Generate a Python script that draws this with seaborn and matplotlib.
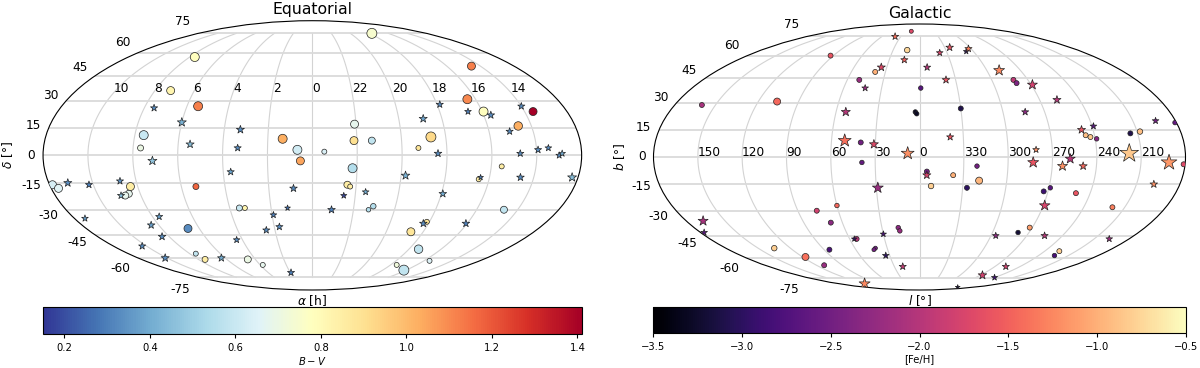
import numpy as np
import pandas as pd
import matplotlib
matplotlib.use("Agg")
import matplotlib.pyplot as plt
import seaborn as sns
from matplotlib.cm import ScalarMappable
from matplotlib.colors import Normalize

# ==========================================
# DATA (degrees, colour value, marker diameter in px)
# ==========================================

eq_circle_lon = [-115,-108,-82,-114,-115,-20,-10,-8,-178,-175,-125,-128,-131,-80,-53,-49,-99,-114,-113,-68,-57,94,142,114,121,156,141,29,28,40,80,8,71,27,127,24,26,113,44,41,140,88,80,99,126,97,117]
eq_circle_lat = [57,36,27,11,4,9,3,-3,-16,-18,-17,-21,-22,-17,-29,-29,-41,-57,-61,-61,-65,75,51,31,24,24,16,17,8,8,10,2,4,-7,-6,-16,-17,-13,-28,-30,-30,-37,-43,-54,-62,-65,-69]
eq_circle_bv = [.78,.82,1.12,.60,.70,1.03,.62,1.05,.63,.66,.85,.68,.68,1.17,.60,.82,.33,.58,.85,.70,.68,.75,1.12,1.1,.78,1.41,1.03,.68,.9,.58,.92,.64,.88,.55,.85,.85,.85,.85,.55,.55,.58,.88,.88,.58,.65,.72,.58]
eq_circle_d = [9,8,9,9,6,9,9,8,8,8,8,7,7,6,6,5,8,5,6,7,5,10,8,9,9,8,8.5,8,8,7,10,5,5,9,5,7,5,5,5.5,4.5,7,5,8,8.5,5,5,10]

eq_star_lon = [-113,-90,-49,-82,-50,-107,-55,-167,-153,-131,-134,-172,-115,-126,-126,-154,-152,-94,-65,-13,-18,-29,-26,-37,-29,92,77,110,125,150,134,84,151,158,139,165,167,63,141,176,114,37,22,91,14,86,119]
eq_star_lat = [26,18,14,6,4,-3,-9,-15,-16,-14,-22,-35,-34,-39,-46,-52,-60,-60,-48,-18,-29,-33,-40,-42,-71,28,20,24,22,27,13,1,3,4,1,0,1,-11,-12,-12,-12,-20,-22,-21,-30,-38,-38]
eq_star_bv = [.33,.42,.33,.45,.33,.47,.38,.33,.3,.35,.45,.37,.37,.37,.33,.33,.33,.4,.33,.33,.28,.3,.33,.33,.3,.33,.38,.3,.33,.33,.33,.33,.33,.33,.33,.33,.4,.42,.33,.45,.3,.4,.18,.4,.3,.33,.3]
eq_star_d = [6,8,7,7,6,8,6,7,6,6,6,5.5,6,6.5,6.5,6,7,6.5,5.5,6.5,4.5,5.5,6,6,6,6,7,5.5,6.5,6,6,6.5,6,5.5,6,5.5,5.5,7.5,6.5,8,4.5,5.5,5,6.5,6.5,6.5,6.5]

gal_circle_lon = [-93,-14,-17,-39,-50,-160,-106,-40,-39,1,-3,-2,30,78,79,114,117,121,145,152,179,179,39,5,23,41,-76,-60,-69,-54,-17,-16,-41,-43,-85,-135,-117,-111,8,33,87,91,110,141,81,88,136,134]
gal_circle_lat = [60,64,80,49,44,29,31,8,-3,39,25,24,27,44,42,12,11,10,13,14,19,-4,-5,-8,-10,-13,-30,-27,-37,-47,-40,-42,-53,-54,-54,-53,-59,-65,-16,-17,-19,-17,-20,-28,-43,-40,-58,-55]
gal_circle_feh = [-1.6,-.75,-1.7,-1.0,-2.2,-2.1,-1.45,-2.5,-2.6,-2.7,-3.3,-3.3,-3.1,-1.95,-2.4,-.9,-.85,-2.35,-3.1,-.9,-2.6,-1.7,-2.5,-2.5,-1.0,-.95,-1.8,-1.45,-2.3,-2.0,-2.3,-2.2,-2.5,-2.5,-2.8,-.8,-1.4,-2.2,-.8,-3.0,-2.9,-2.7,-1.6,-1.3,-3.2,-1.1,-2.8,-.8]
gal_circle_d = [5,5.5,4,5,5,5,7,5,4.5,4.5,4.5,4.5,5,5,5,5,5,4.5,5,5.5,4.5,5,4.5,5,5,7,5,4.5,5,5,4.5,4.5,4,4,5,5.5,7,5,5.5,5,5,4.5,5,5,4.5,5,4.5,5]

gal_star_lon = [-39,-15,-35,-43,-53,-51,-31,-8,22,36,52,57,7,22,71,91,103,76,21,112,121,166,142,169,79,77,102,97,111,5,-29,-167,-177,-56,-30,-34,-20,-122,162,91,64,105,163,103,93,120,125]
gal_star_lat = [75,57,52,39,25,9,7,2,62,66,63,65,52,44,50,41,32,25,11,15,17,20,2,-3,4,-3,-1,-5,-5,-10,-17,-36,-43,-47,-44,-58,-66,-81,-15,-27,-45,-45,-47,-66,-73,-75,-85]
gal_star_feh = [-1.4,-1.5,-1.7,-2.2,-2.0,-1.4,-1.7,-1.2,-1.75,-1.6,-3.0,-1.3,-2.0,-1.6,-1.25,-1.8,-2.0,-2.3,-1.6,-1.6,-2.7,-2.5,-.85,-1.15,-1.2,-1.6,-2.0,-1.2,-1.45,-1.75,-2.2,-2.1,-2.7,-3.0,-2.8,-3.0,-1.9,-1.25,-1.2,-1.75,-2.3,-2.0,-2.2,-1.8,-1.8,-2.9,-3.2]
gal_star_d = [6,6,7,5.5,8,12,8,12,5.5,6.5,4.5,6,6,6.5,10,9,7,6,6,7,5.5,5.5,18,15,5.5,10,9,9,7,7,10,9,5.5,4.5,5,5.5,6,10,6.5,9.5,5.5,6,5.5,6,7.5,5,3.5]

ra_labels = ["10","8","6","4","2","0","22","20","18","16","14"]
l_labels = ["150","120","90","60","30","0","330","300","270","240","210"]
lat_labels = ["-75","-60","-45","-30","-15","0","15","30","45","60","75"]
lon_ticks = [-150,-120,-90,-60,-30,0,30,60,90,120,150]

DPI = 100
W, H = 1200, 368
STAR_EXTRA = 1.5

# ==========================================
# HELPERS
# ==========================================

def pix_rect(x0, y0, x1, y1):
    return [x0/W, 1-y1/H, (x1-x0)/W, (y1-y0)/H]


def draw_points(ax, lon, lat, val, diam, marker, cmap, vrange):
    extra = STAR_EXTRA if marker == "*" else 0.0
    df = pd.DataFrame({"lon": np.radians(lon), "lat": np.radians(lat), "val": val,
                       "area": ((np.array(diam)+extra)*72/DPI)**2})
    lo, hi = df["area"].min(), df["area"].max()
    sns.scatterplot(data=df, x="lon", y="lat", hue="val", palette=cmap, hue_norm=vrange,
                    size="area", sizes=(lo, hi), size_norm=(lo, hi), marker=marker,
                    edgecolor="#222222", linewidth=0.5, legend=False, zorder=3, ax=ax)


def setup_axes(ax, title, xlab, ylab):
    ax.set_longitude_grid(30)
    ax.set_latitude_grid(15)
    ax.set_longitude_grid_ends(75)
    ax.xaxis.grid(True, color="lightgray", linewidth=0.8)
    ax.yaxis.grid(True, color="#dadada", linewidth=1.3)
    ax.set_yticklabels(lat_labels, fontsize=8.7)
    ax.set_title(title, fontsize=11.3, pad=4.5)
    ax.set_xlabel(xlab, fontsize=8.7)
    ax.set_ylabel(ylab, fontsize=8.7)


def add_cbar(rect, cmap, vrange, ticks, label):
    cax = fig.add_axes(rect)
    sm = ScalarMappable(norm=Normalize(*vrange), cmap=cmap)
    cb = fig.colorbar(sm, cax=cax, orientation="horizontal", ticks=ticks)
    cb.set_label(label, fontsize=7.2, labelpad=1.5)
    cb.ax.tick_params(labelsize=7.2, length=3, width=0.8)

# ==========================================
# FIGURE
# ==========================================

fig = plt.figure(figsize=(W/DPI, H/DPI), dpi=DPI)

# equatorial panel
ax1 = fig.add_axes(pix_rect(43, 20.7, 581.7, 290), projection="mollweide")
draw_points(ax1, eq_circle_lon, eq_circle_lat, eq_circle_bv, eq_circle_d, "o", "RdYlBu_r", (0.15, 1.41))
draw_points(ax1, eq_star_lon, eq_star_lat, eq_star_bv, eq_star_d, "*", "RdYlBu_r", (0.15, 1.41))
setup_axes(ax1, "Equatorial", r"$\alpha$ [h]", r"$\delta$ [°]")
ax1.set_xticklabels([])
for lon, lab in zip(lon_ticks, ra_labels):
    ax1.text(np.radians(lon), np.radians(35), lab, ha="left", va="baseline", fontsize=8.7, zorder=4)
ax1.xaxis.set_label_coords(0.5, -0.012)
ax1.yaxis.set_label_coords(-0.052, 0.5)
add_cbar(pix_rect(43, 306.7, 581.7, 334), "RdYlBu_r", (0.15, 1.41),
         [0.2, 0.4, 0.6, 0.8, 1.0, 1.2, 1.4], r"$B-V$")

# galactic panel
ax2 = fig.add_axes(pix_rect(653.3, 24, 1185.7, 290), projection="mollweide")
draw_points(ax2, gal_circle_lon, gal_circle_lat, gal_circle_feh, gal_circle_d, "o", "magma", (-3.5, -0.5))
draw_points(ax2, gal_star_lon, gal_star_lat, gal_star_feh, gal_star_d, "*", "magma", (-3.5, -0.5))
setup_axes(ax2, "Galactic", r"$l$ [°]", r"$b$ [°]")
ax2.set_xticklabels(l_labels, ha="left", va="center", fontsize=8.7)
ax2.xaxis.set_label_coords(0.5, -0.012)
ax2.yaxis.set_label_coords(-0.049, 0.5)
add_cbar(pix_rect(653.3, 306.7, 1185.7, 333.3), "magma", (-3.5, -0.5),
         [-3.5, -3.0, -2.5, -2.0, -1.5, -1.0, -0.5], "[Fe/H]")

fig.savefig("out.png", dpi=DPI)
